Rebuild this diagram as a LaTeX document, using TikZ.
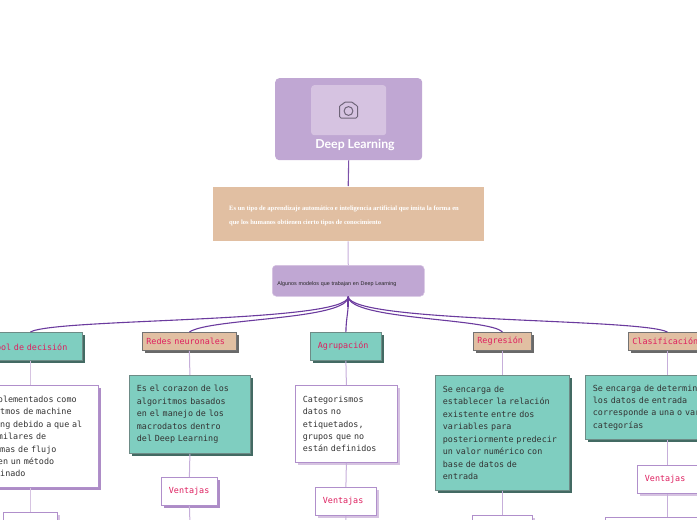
\documentclass[tikz,border=0pt]{standalone}
\usepackage{fontspec}
\usepackage{xcolor}
\usetikzlibrary{positioning, shadows}
\setmainfont{Lato}
\setmonofont{DejaVu Sans Mono}
\newfontfamily\serifbold{Liberation Serif}[BoldFont={Liberation Serif Bold}]
\newfontfamily\smallsans{Liberation Sans}

\definecolor{lila}{HTML}{C0A7D3}
\definecolor{lilalight}{HTML}{D6C3E1}
\definecolor{lilaline}{HTML}{C6AEDA}
\definecolor{lilaborder}{HTML}{B08FCB}
\definecolor{lilashadow}{HTML}{A47FC0}
\definecolor{branch}{HTML}{6B3B9E}
\definecolor{sand}{HTML}{E1BFA2}
\definecolor{teal}{HTML}{7FCEC0}
\definecolor{tealdark}{HTML}{2F5A52}
\definecolor{pinktext}{HTML}{DE1F5F}
\definecolor{graydark}{HTML}{6E6478}

\tikzset{
  basebox/.style={anchor=north west, inner ysep=0pt, align=left,
    font=\ttfamily\fontsize{8.4}{12.45}\selectfont, text=black!80},
  tealbox/.style={basebox, fill=teal, draw=tealdark!70, line width=.8pt, inner xsep=7.5pt,
    drop shadow={shadow xshift=2.5pt, shadow yshift=-2.5pt, fill=tealdark, opacity=.9}},
  sandbox/.style={basebox, fill=sand, draw=black!55, line width=.8pt, inner xsep=4pt,
    drop shadow={shadow xshift=2.5pt, shadow yshift=-2.5pt, fill=black!65, opacity=.9}},
  whitebox/.style={basebox, fill=white, draw=lilaborder, line width=.8pt, inner xsep=7.5pt,
    drop shadow={shadow xshift=2.5pt, shadow yshift=-2.5pt, fill=lilashadow, opacity=.9}},
  softbox/.style={whitebox, drop shadow={shadow xshift=2.5pt, shadow yshift=-2.5pt, fill=lilalight, opacity=1}},
  titletext/.style={text=pinktext},
  stem/.style={lilaline, line width=1pt},
  branchline/.style={branch, line width=1.1pt}
}

\begin{document}
\begin{tikzpicture}[x=1pt, y=-1pt]
    \useasboundingbox (0,0) rectangle (697,520);
    \clip (0,0) rectangle (697,520);

    % Top of the map
    \node[anchor=north west, fill=lila, rounded corners=4pt, minimum width=147pt, minimum height=82pt] (root) at (275,78) {};
    \node[anchor=north west, fill=lilalight, rounded corners=3pt, minimum width=75pt, minimum height=50pt] (rootimage) at (311,85) {};
    \node[text=white, font=\fontsize{12.3}{14}\selectfont\bfseries, inner sep=0pt] (roottitle) at (355,145) {Deep Learning};

    % Camera icon
    \draw[graydark, line width=1pt, rounded corners=1.5pt] (339.5,105) -- (342.5,105) -- (344,102) -- (353,102) -- (354.5,105) -- (357.5,105) -- (357.5,118) -- (339.5,118) -- cycle;
    \draw[graydark, line width=1pt] (348.5,111) circle (4.4);

    \node[anchor=north west, fill=sand, draw=white, line width=.4pt, minimum width=272pt, minimum height=55pt, inner sep=0pt,
        drop shadow={shadow xshift=1pt, shadow yshift=-1pt, fill=sand, opacity=1}] (intro) at (212,186) {};
    \node[anchor=north west, text=white, inner sep=0pt, align=left, font=\serifbold\fontsize{6.55}{14}\selectfont\bfseries] (introtext) at (229,206)
        {Es un tipo de aprendizaje automático e inteligencia artificial que imita la forma en\\que los humanos obtienen cierto tipos de conocimiento};

    \node[anchor=north west, fill=lila, draw=lilalight, line width=.5pt, rounded corners=4pt, minimum width=152pt, minimum height=31pt,
        inner xsep=5pt, inner ysep=0pt, text width=142pt, align=left, font=\smallsans\fontsize{5.4}{7}\selectfont, text=black!85] (models) at (272,265)
        {\raisebox{-11pt}{Algunos modelos que trabajan en Deep Learning}};

    % First level
    \node[tealbox, titletext, text width=89pt, minimum height=28pt] (arbol) at (-22,332) {Árbol de decisión};
    \node[sandbox, titletext, text width=86pt, minimum height=18pt] (redes) at (142,332) {Redes neuronales};
    \node[tealbox, titletext, text width=56pt, minimum height=28pt] (agrupacion) at (310,332) {Agrupación};
    \node[sandbox, titletext, text width=50pt, minimum height=18pt] (regresion) at (473,332) {Regresión};
    \node[sandbox, titletext, text width=70pt, minimum height=18pt] (clasificacion) at (628,332) {Clasificación};

    % Descriptions
    \node[whitebox, text width=121pt, minimum height=102pt] (arboldesc) at (-38,385)
        {Son implementados como\\algoritmos de machine\\learning debido a que al\\son similares de\\diagramas de flujo\\y tienen un método\\determinado};
    \node[tealbox, text width=106pt, minimum height=78pt] (redesdesc) at (129,375)
        {Es el corazon de los\\algoritmos basados\\en el manejo de los\\macrodatos dentro\\del Deep Learning};
    \node[softbox, text width=87pt, minimum height=77pt] (agrupaciondesc) at (295,385)
        {Categorismos\\datos no\\etiquetados,\\grupos que no\\están definidos};
    \node[tealbox, text width=119pt, minimum height=115pt] (regresiondesc) at (435,375)
        {Se encarga de\\establecer la relación\\existente entre dos\\variables para\\posteriormente predecir\\un valor numérico con\\base de datos de\\entrada};
    \node[tealbox, text width=149pt, minimum height=64pt] (clasificaciondesc) at (585,375)
        {Se encarga de determinar si\\los datos de entrada\\corresponde a una o varias\\categorías};

    % Ventajas
    \node[whitebox, titletext, text width=41pt, minimum height=28pt] (redesvent) at (161,477) {Ventajas};
    \node[softbox, titletext, text width=46pt, minimum height=28pt] (agrupacionvent) at (315,487) {Ventajas};
    \node[softbox, titletext, text width=45pt, minimum height=28pt] (clasificacionvent) at (637,465) {Ventajas};

    % Boxes cut by the lower edge
    \node[softbox, text width=39pt, minimum height=30pt] (arbolnext) at (3,512) {};
    \node[softbox, text width=45pt, minimum height=30pt] (regresionnext) at (472,515) {};
    \node[softbox, text width=109pt, minimum height=30pt] (clasificacionnext) at (605,517) {};

    \coordinate (redesend) at (190,525);
    \coordinate (agrupacionend) at (346,525);

    % Connectors
    \draw[branch!80!lila, line width=1.1pt] (root.south) -- (intro.north);
    \draw[stem] (intro.south) -- (models.north);
    \draw[branchline] (models.south) .. controls (349,323) and (55,318) .. (arbol.north);
    \draw[branchline] (models.south) .. controls (349,320) and (210,318) .. (redes.north);
    \draw[branchline] (models.south) .. controls (349,310) and (346,318) .. (agrupacion.north);
    \draw[branchline] (models.south) .. controls (349,320) and (490,318) .. (regresion.north);
    \draw[branchline] (models.south) .. controls (349,323) and (640,318) .. (clasificacion.north);
    \draw[branch, line width=1.6pt] (models.south) -- ++(0,10);

    \draw[stem, lilalight] (arbol.south) -- (arboldesc.north);
    \draw[stem] (redes.south) -- (redesdesc.north);
    \draw[stem] (agrupacion.south) -- (agrupaciondesc.north);
    \draw[stem] (regresion.south) -- (regresiondesc.north);
    \draw[stem] (clasificacion.south) -- (clasificaciondesc.north);

    \draw[stem, lilalight] (arboldesc.south) -- (arbolnext.north);
    \draw[stem] (redesdesc.south) -- (redesvent.north);
    \draw[stem] (agrupaciondesc.south) -- (agrupacionvent.north);
    \draw[stem] (regresiondesc.south) -- (regresionnext.north);
    \draw[stem] (clasificaciondesc.south) -- (clasificacionvent.north);

    \draw[stem] (redesvent.south) -- (redesend);
    \draw[stem] (agrupacionvent.south) -- (agrupacionend);
    \draw[stem] (clasificacionvent.south) -- (clasificacionnext.north);
\end{tikzpicture}
\end{document}
